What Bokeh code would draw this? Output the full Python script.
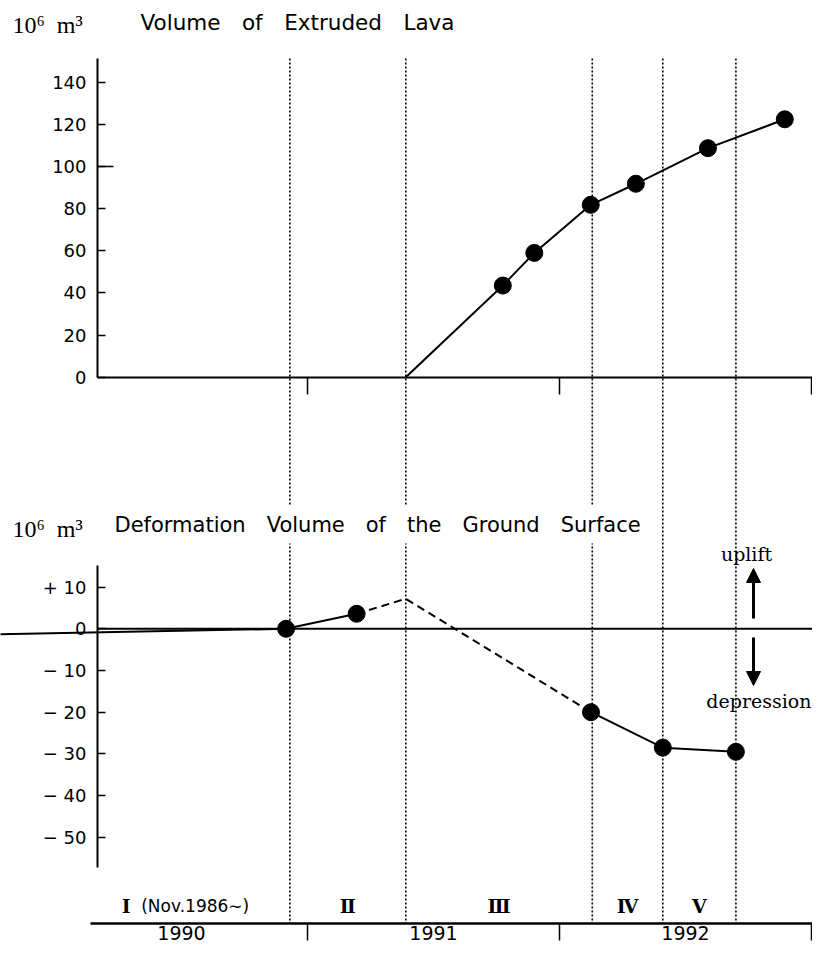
from bokeh.plotting import figure
from bokeh.models import Range1d, LinearAxis, FixedTicker, Label, Arrow, NormalHead
from bokeh.embed import file_html
from bokeh.resources import INLINE
from bokeh.core.properties import value

# ---------------- data ----------------
year_labels = ["1990", "1991", "1992"]
year_starts = [1990, 1991, 1992]
year_ticks = [1991, 1992, 1993]
phase_bounds = [1990.93, 1991.39, 1992.13, 1992.41, 1992.70]
phase_names = ["Ⅰ", "Ⅱ", "Ⅲ", "Ⅳ", "Ⅴ"]
phase1_note = "(Nov.1986∼)"

lava_onset_t = 1991.39
lava_t = [1991.775, 1991.90, 1992.124, 1992.303, 1992.589, 1992.894]
lava_v = [43.5, 59.0, 81.8, 91.8, 108.7, 122.4]
lava_ticks = [0, 20, 40, 60, 80, 100, 120, 140]
lava_long_tick = [100]

def_lead_t, def_lead_v = 1989.78, -1.3
def_t = [1990.915, 1991.195, 1992.125, 1992.41, 1992.70]
def_v = [0.0, 3.6, -20.0, -28.5, -29.5]
def_peak_t, def_peak_v = 1991.39, 7.2
def_ticks = [10, 0, -10, -20, -30, -40, -50]
def_tick_labels = ["+ 10", "0", "− 10", "− 20", "− 30", "− 40", "− 50"]

# ---------------- layout helpers (picture pixel -> data) ----------------
W, H = 812, 944
X0, PXY = 55.0, 252.0
LY0, LK = 376.7, 2.107
DY0, DK = 628.3, 4.17


def t_of(X):
    return 1990 + (X - X0) / PXY


def lava_of(Y):
    return (LY0 - Y) / LK


def def_of(Y):
    return (DY0 - Y) / DK


SANS = "DejaVu Sans"
SERIF = "DejaVu Serif"

p = figure(width=W, height=H, x_range=Range1d(t_of(0), t_of(W)),
           y_range=Range1d(lava_of(H), lava_of(0)),
           x_axis_type=None, y_axis_type=None, output_backend="svg",
           toolbar_location=None, min_border=0, outline_line_color=None,
           title=None)
p.extra_y_ranges = {"def": Range1d(def_of(H), def_of(0))}
p.background_fill_color = "white"


def style(ax, fs="18px"):
    ax.axis_line_color = "black"
    ax.major_tick_line_color = "black"
    ax.minor_tick_line_color = None
    ax.major_label_text_font = SANS
    ax.major_label_text_font_size = fs
    ax.major_label_text_color = "black"
    return ax


# vertical dotted phase boundaries
p.segment(x0=phase_bounds, x1=phase_bounds,
          y0=[lava_of(58)] * len(phase_bounds), y1=[lava_of(923)] * len(phase_bounds),
          line_color="black", line_width=1.6, line_dash="2 2")

# ---- top panel: lava volume ----
ax = style(LinearAxis(fixed_location=t_of(97), bounds=(0, lava_of(58)),
                      ticker=FixedTicker(ticks=lava_ticks), major_tick_in=8,
                      major_tick_out=0, major_label_standoff=11,
                      axis_line_width=2, major_tick_line_width=1.5))
p.add_layout(ax, "left")
ax = style(LinearAxis(fixed_location=t_of(97), ticker=FixedTicker(ticks=lava_long_tick),
                      major_tick_in=16, major_tick_out=0, major_tick_line_width=1.5,
                      major_label_overrides={v: "" for v in lava_long_tick}))
ax.axis_line_color = None
p.add_layout(ax, "left")

ax = style(LinearAxis(fixed_location=0, bounds=(t_of(97), t_of(W + 5)),
                      ticker=FixedTicker(ticks=year_ticks), major_tick_in=0,
                      major_tick_out=17, axis_line_width=2.2, major_tick_line_width=1.5,
                      major_label_overrides={y: "" for y in year_ticks}))
p.add_layout(ax, "below")

p.line(x=[lava_onset_t] + lava_t, y=[0.0] + lava_v, line_color="black", line_width=2)
p.scatter(x=lava_t, y=lava_v, marker="circle", size=17, fill_color="black", line_color="black")

p.add_layout(Label(x=t_of(12), y=lava_of(24), text="10⁶\u2002m³", text_font="Liberation Serif",
                   text_font_size="24px", text_baseline="middle", text_color="black"))
p.add_layout(Label(x=t_of(140), y=lava_of(22), text="Volume\u2003of\u2003Extruded\u2003Lava",
                   text_font=SANS, text_font_size="21.5px", text_baseline="middle", text_color="black"))

# ---- bottom panel: deformation volume ----
p.line(x=[t_of(97), t_of(W + 5)], y=[0, 0], y_range_name="def", line_color="black", line_width=2)

ax = style(LinearAxis(y_range_name="def", fixed_location=t_of(97), bounds=(def_of(867), def_of(565)),
                      ticker=FixedTicker(ticks=def_ticks), major_tick_in=8, major_tick_out=0,
                      major_label_standoff=11, axis_line_width=2, major_tick_line_width=1.5,
                      major_label_overrides=dict(zip(def_ticks, def_tick_labels))))
p.add_layout(ax, "left")

p.line(x=[def_lead_t, def_t[0], def_t[1]], y=[def_lead_v, def_v[0], def_v[1]],
       y_range_name="def", line_color="black", line_width=2)
p.line(x=[def_t[1], def_peak_t, def_t[2]], y=[def_v[1], def_peak_v, def_v[2]],
       y_range_name="def", line_color="black", line_width=2, line_dash="8 5")
p.line(x=def_t[2:], y=def_v[2:], y_range_name="def", line_color="black", line_width=2)
p.scatter(x=def_t, y=def_v, y_range_name="def", marker="circle", size=17,
          fill_color="black", line_color="black")

p.add_layout(Label(x=t_of(12), y=def_of(528), y_range_name="def", text="10⁶\u2002m³",
                   text_font="Liberation Serif", text_font_size="24px", text_baseline="middle",
                   text_color="black"))
p.add_layout(Label(x=t_of(107), y=def_of(524), y_range_name="def",
                   text="Deformation\u2003Volume\u2003of\u2003the\u2003Ground\u2003Surface",
                   text_font=SANS, text_font_size="21px", text_baseline="middle", text_color="black",
                   background_fill_color="white", padding=7))

p.add_layout(Label(x=t_of(746), y=def_of(553), y_range_name="def", text="uplift",
                   text_font=SERIF, text_font_size="19px", text_align="center",
                   text_baseline="middle", text_color="black"))
p.add_layout(Label(x=t_of(W - 1), y=def_of(700), y_range_name="def", text="depression",
                   text_font=SERIF, text_font_size="19px", text_align="right",
                   text_baseline="middle", text_color="black"))
p.add_layout(Arrow(end=NormalHead(size=14, fill_color="black", line_color="black"),
                   x_start=t_of(753), y_start=def_of(618), x_end=t_of(753), y_end=def_of(568),
                   y_range_name="def", line_color="black", line_width=3))
p.add_layout(Arrow(end=NormalHead(size=14, fill_color="black", line_color="black"),
                   x_start=t_of(753), y_start=def_of(637), x_end=t_of(753), y_end=def_of(685),
                   y_range_name="def", line_color="black", line_width=3))

# phase labels
phase_starts = [t_of(90)] + phase_bounds[:-1]
phase_mid = [(a + b) / 2 for a, b in zip(phase_starts, phase_bounds)]
num_x = [phase_mid[0] - 64 / PXY] + phase_mid[1:]
p.text(x=num_x, y=[def_of(905)] * len(num_x), text=phase_names, y_range_name="def",
       text_font=value(SERIF), text_font_size=value("19px"), text_font_style="bold",
       text_align="center", text_baseline="middle", text_color="black")
p.add_layout(Label(x=phase_mid[0] - 49 / PXY, y=def_of(905), y_range_name="def", text=phase1_note,
                   text_font=SANS, text_font_size="17px", text_baseline="middle",
                   text_color="black"))

# time axis
ax = style(LinearAxis(y_range_name="def", fixed_location=def_of(923), bounds=(t_of(90), t_of(W + 5)),
                      ticker=FixedTicker(ticks=year_ticks), major_tick_in=0, major_tick_out=17,
                      axis_line_width=2.5, major_tick_line_width=1.5,
                      major_label_overrides={y: "" for y in year_ticks}))
p.add_layout(ax, "below")
ax = style(LinearAxis(y_range_name="def", fixed_location=def_of(923),
                      ticker=FixedTicker(ticks=[y + 0.5 for y in year_starts]),
                      major_tick_in=0, major_tick_out=0,
                      major_label_standoff=2,
                      major_label_overrides={y + 0.5: s for y, s in zip(year_starts, year_labels)}),
           fs="19px")
ax.axis_line_color = None
p.add_layout(ax, "below")

open("out.html", "w").write(file_html(p, INLINE))
